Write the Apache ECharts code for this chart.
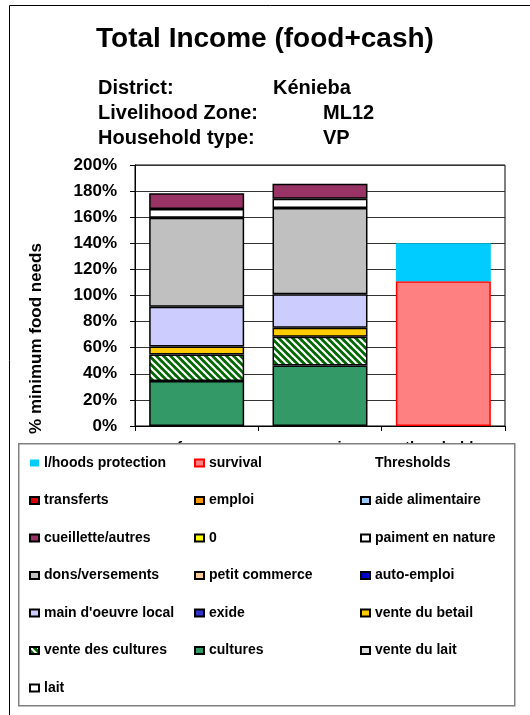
<!DOCTYPE html>
<html>
<head>
<meta charset="utf-8">
<script src="https://cdn.jsdelivr.net/npm/echarts@6/dist/echarts.min.js"></script>
<style>
  html, body { margin: 0; padding: 0; background: #fff; }
  #chart { width: 530px; height: 715px; }
</style>
</head>
<body>
<div id="chart"></div>
<script>
var categories = ['reference', 'scenario', 'thresholds'];

// income sources (stacked bottom -> top), % of minimum food needs
var cultures = [34.5, 46.3, '-'];
var venteCultures = [20.3, 22.0, '-'];
var venteBetail = [6.1, 6.9, '-'];
var mainOeuvre = [30.4, 25.8, '-'];
var dons = [68.3, 66.0, '-'];
var paiment = [6.6, 7.2, '-'];
var cueillette = [12.1, 11.5, '-'];
// thresholds
var survival = ['-', '-', 111];
var lhoods = ['-', '-', 29];
var empty = ['-', '-', '-'];

var yTicks = { min: 0, max: 200, interval: 20 };

(function() {
  var font = 'Liberation Sans, Arial, sans-serif';
  var chart = echarts.init(document.getElementById('chart'));

  // hatched fill for "vente des cultures"
  var hatch = document.createElement('canvas');
  hatch.width = 7; hatch.height = 7;
  var hc = hatch.getContext('2d');
  hc.fillStyle = '#006600';
  hc.fillRect(0, 0, 7, 7);
  hc.strokeStyle = '#ffffff';
  hc.lineWidth = 2.2;
  [-7, 0, 7].forEach(function(o) {
    hc.beginPath();
    hc.moveTo(o - 1, -1);
    hc.lineTo(o + 8, 8);
    hc.stroke();
  });

  function bar(name, data, color, border) {
    return {
      name: name,
      type: 'bar',
      stack: 'total',
      data: data,
      barWidth: '77%',
      itemStyle: {
        color: color,
        borderColor: border === undefined ? '#000' : border,
        borderWidth: border === null ? 0 : 1.5
      },
      emphasis: { disabled: true }
    };
  }

  var series = [
    bar('cultures', cultures, '#339966'),
    bar('vente des cultures', venteCultures, { image: hatch, repeat: 'repeat' }),
    bar('vente du betail', venteBetail, '#FFCC00'),
    bar("main d'oeuvre local", mainOeuvre, '#CCCCFF'),
    bar('dons/versements', dons, '#C0C0C0'),
    bar('paiment en nature', paiment, '#FFFFFF'),
    bar('cueillette/autres', cueillette, '#993366'),
    bar('survival', survival, '#FF8080', '#FF0000'),
    bar('l/hoods protection', lhoods, '#00CCFF', null),
    bar('transferts', empty, '#DD0000'),
    bar('emploi', empty, '#FF9900'),
    bar('aide alimentaire', empty, '#99CCFF'),
    bar('0', empty, '#FFFF00'),
    bar('petit commerce', empty, '#FFCC99'),
    bar('auto-emploi', empty, '#0000CC'),
    bar('exide', empty, '#3333CC'),
    bar('vente du lait', empty, '#DDDDDD'),
    bar('lait', empty, '#FFFFFF'),
    bar('Thresholds', empty, 'rgba(0,0,0,0)', null)
  ];

  var legendText = { color: '#000', fontFamily: font, fontWeight: 'bold', fontSize: 14, lineHeight: 14 };
  function legendCol(left, names) {
    return {
      orient: 'vertical',
      left: left,
      top: 451,
      itemWidth: 9,
      itemHeight: 7,
      itemGap: 23.5,
      icon: 'rect',
      selectedMode: false,
      textStyle: legendText,
      data: names,
      z: 10
    };
  }

  var head = { color: '#000', fontFamily: font, fontWeight: 'bold', fontSize: 20 };

  chart.setOption({
    animation: false,
    title: [
      { text: 'Total Income (food+cash)', left: 'center', top: 20,
        textStyle: { color: '#000', fontFamily: font, fontWeight: 'bold', fontSize: 28 } },
      { text: 'District:', left: 93, top: 73, textStyle: head },
      { text: 'Kénieba', left: 268, top: 73, textStyle: head },
      { text: 'Livelihood Zone:', left: 93, top: 98, textStyle: head },
      { text: 'ML12', left: 318, top: 98, textStyle: head },
      { text: 'Household type:', left: 93, top: 123, textStyle: head },
      { text: 'VP', left: 318, top: 123, textStyle: head }
    ],
    graphic: [
      { type: 'rect', left: 7, top: 3, shape: { width: 600, height: 800 },
        style: { fill: 'none', stroke: '#000', lineWidth: 1 }, silent: true, z: 1 },
      { type: 'rect', left: 18, top: 443, shape: { width: 496, height: 262 },
        style: { fill: '#fff', stroke: '#808080', lineWidth: 1.5 }, silent: true, z: 5 }
    ],
    legend: [
      legendCol(24, ['l/hoods protection', 'transferts', 'cueillette/autres', 'dons/versements',
        "main d'oeuvre local", 'vente des cultures', 'lait']),
      legendCol(189, ['survival', 'emploi', '0', 'petit commerce', 'exide', 'cultures']),
      legendCol(355, ['Thresholds', 'aide alimentaire', 'paiment en nature', 'auto-emploi',
        'vente du betail', 'vente du lait'])
    ],
    grid: {
      left: 135, right: 25, top: 165, bottom: 289,
      show: true, borderColor: '#000', borderWidth: 1, backgroundColor: 'transparent'
    },
    xAxis: {
      type: 'category',
      data: categories,
      axisLine: { lineStyle: { color: '#000', width: 1 } },
      axisTick: { show: true, length: 5, lineStyle: { color: '#000' } },
      axisLabel: { color: '#000', fontFamily: font, fontWeight: 'bold', fontSize: 15, margin: 14 }
    },
    yAxis: {
      type: 'value',
      min: yTicks.min,
      max: yTicks.max,
      interval: yTicks.interval,
      name: '% minimum food needs',
      nameLocation: 'middle',
      nameGap: 90,
      nameTextStyle: { color: '#000', fontFamily: font, fontWeight: 'bold', fontSize: 17,
        padding: [0, 86, 0, 0] },
      axisLine: { show: true, lineStyle: { color: '#000', width: 1 } },
      axisTick: { show: true, length: 5, lineStyle: { color: '#000' } },
      axisLabel: { color: '#000', fontFamily: font, fontWeight: 'bold', fontSize: 17, margin: 18,
        formatter: '{value}%' },
      splitLine: { show: true, lineStyle: { color: '#333', width: 1 } }
    },
    series: series
  });
  window.addEventListener('resize', function() { chart.resize(); });
})();
</script>
</body>
</html>
